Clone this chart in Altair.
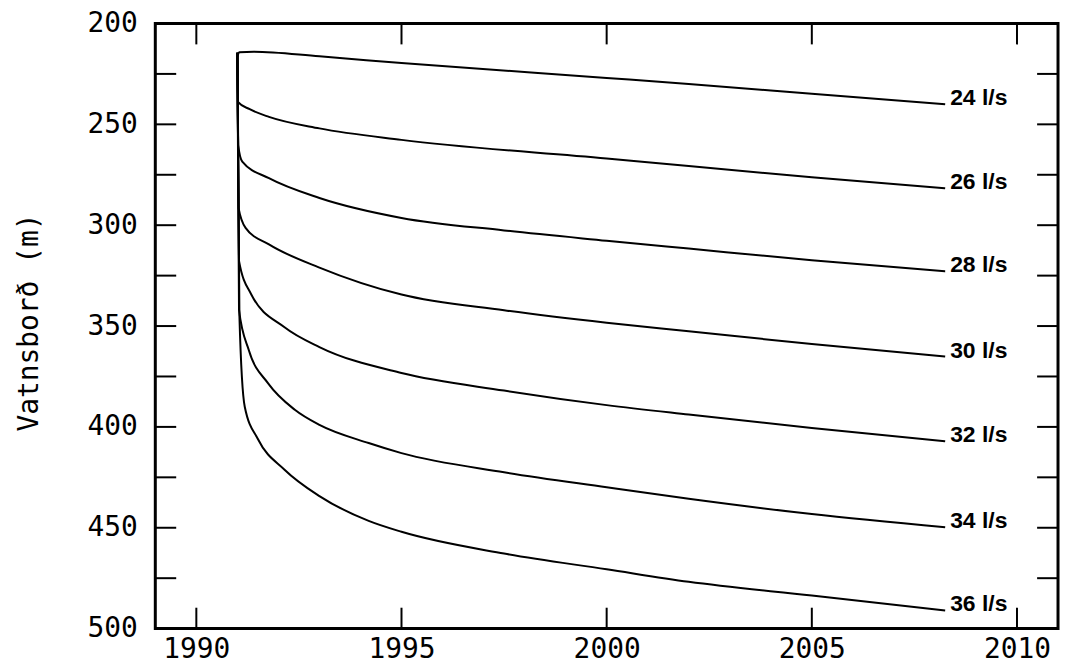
import altair as alt
import pandas as pd

# ---- data ----
series_names = ["24 l/s", "26 l/s", "28 l/s", "30 l/s", "32 l/s", "34 l/s", "36 l/s"]

years_24 = [1991.0, 1991.05, 1991.4, 1993, 1995, 2000, 2002, 2005, 2008.25]
level_24 = [216.5, 214.3, 214.0, 216.3, 219.6, 227.0, 230.0, 234.8, 240.0]

years_26 = [1991.0, 1991.02, 1991.3, 1991.77, 1993, 1995, 2000, 2002, 2005, 2008.25]
level_26 = [214.5, 239.0, 242.5, 246.3, 252.0, 257.7, 266.9, 270.7, 276.2, 281.7]

years_28 = [1991.0, 1991.02, 1991.12, 1991.77, 1993, 1995, 1997.5, 2000, 2002, 2005, 2008.25]
level_28 = [214.5, 260.3, 268.5, 276.7, 286.5, 296.4, 302.6, 307.7, 311.6, 317.4, 322.9]

years_30 = [1991.0, 1991.03, 1991.2, 1991.77, 1993, 1995, 1997.5, 2000, 2002, 2005, 2008.25]
level_30 = [214.5, 291.5, 301.3, 309.5, 321.0, 334.4, 342.2, 348.4, 352.6, 358.9, 365.1]

years_32 = [1991.0, 1991.04, 1991.33, 1992.15, 1993, 1995, 1997.5, 2000, 2002, 2005, 2008.25]
level_32 = [214.5, 317.7, 334.0, 350.6, 360.4, 373.3, 382.0, 389.2, 393.9, 400.5, 407.1]

years_34 = [1991.0, 1991.04, 1991.28, 1991.75, 1992.4, 1993, 1994.2, 1995, 1997.5, 2000, 2002, 2005, 2008.25]
level_34 = [214.5, 342.0, 362.0, 378.4, 391.5, 399.0, 408.0, 413.0, 422.5, 429.9, 435.6, 443.2, 449.8]

years_36 = [1991.0, 1991.05, 1991.18, 1991.5, 1992.15, 1993, 1994.2, 1995, 1997.5, 2000, 2002, 2005, 2008.25]
level_36 = [214.5, 345.0, 390.0, 406.0, 421.2, 434.3, 446.6, 452.0, 462.8, 470.6, 476.8, 483.6, 491.0]

x_ticks = [1990, 1995, 2000, 2005, 2010]
y_ticks = [200, 225, 250, 275, 300, 325, 350, 375, 400, 425, 450, 475, 500]
y_labels = [200, 250, 300, 350, 400, 450, 500]

all_years = [years_24, years_26, years_28, years_30, years_32, years_34, years_36]
all_levels = [level_24, level_26, level_28, level_30, level_32, level_34, level_36]

rows = []
for name, ys, vs in zip(series_names, all_years, all_levels):
    for i, (a, b) in enumerate(zip(ys, vs)):
        rows.append({"series": name, "year": a, "level": b, "order": i})
df = pd.DataFrame(rows)

end_df = pd.DataFrame({
    "series": series_names,
    "year": [ys[-1] for ys in all_years],
    "level": [vs[-1] for vs in all_levels],
})
xt_df = pd.DataFrame({"t": x_ticks})
yt_df = pd.DataFrame({"t": y_ticks})

W, H = 907, 608
TL = 21
FONT = "DejaVu Sans Mono"

xscale = alt.Scale(domain=[1989, 2011], nice=False, zero=False)
yscale = alt.Scale(domain=[200, 500], reverse=True, nice=False, zero=False)

x_enc = alt.X("year:Q", scale=xscale,
              axis=alt.Axis(values=x_ticks, format="d", ticks=False, domain=False, grid=False,
                            labelFont=FONT, labelFontSize=28, labelColor="black",
                            labelPadding=7, title=None, labelFlush=False))
y_enc = alt.Y("level:Q", scale=yscale,
              axis=alt.Axis(values=y_labels, format="d", ticks=False, domain=False, grid=False,
                            labelFont=FONT, labelFontSize=28, labelColor="black",
                            labelPadding=18, labelFlush=False,
                            title="Vatnsborð (m)", titleFont=FONT, titleFontSize=28,
                            titleFontWeight="normal", titleColor="black",
                            titleAngle=270, titleX=-118, titleY=300,
                            titleAlign="center", titleBaseline="alphabetic"))

lines = alt.Chart(df).mark_line(color="black", strokeWidth=2, interpolate="monotone").encode(
    x=x_enc, y=y_enc, detail="series:N", order="order:Q"
)

labels = alt.Chart(end_df).mark_text(
    align="left", baseline="middle", dx=5, dy=-6,
    font="Liberation Sans", fontWeight="bold", fontSize=23, color="black"
).encode(
    x=alt.X("year:Q", scale=xscale),
    y=alt.Y("level:Q", scale=yscale),
    text="series:N",
)

tick_style = dict(color="black", strokeWidth=2)
top_ticks = alt.Chart(xt_df).mark_rule(**tick_style).encode(
    x=alt.X("t:Q", scale=xscale), y=alt.value(0), y2=alt.value(TL))
bot_ticks = alt.Chart(xt_df).mark_rule(**tick_style).encode(
    x=alt.X("t:Q", scale=xscale), y=alt.value(H - TL), y2=alt.value(H))
left_ticks = alt.Chart(yt_df).mark_rule(**tick_style).encode(
    y=alt.Y("t:Q", scale=yscale), x=alt.value(0), x2=alt.value(TL))
right_ticks = alt.Chart(yt_df).mark_rule(**tick_style).encode(
    y=alt.Y("t:Q", scale=yscale), x=alt.value(W - TL), x2=alt.value(W))

chart = alt.layer(lines, labels, top_ticks, bot_ticks, left_ticks, right_ticks).properties(
    width=W, height=H,
    autosize=alt.AutoSizeParams(type="none"),
    padding={"left": 148, "top": 14, "right": 3, "bottom": 35},
    background="white",
).configure_view(stroke="black", strokeWidth=3)

chart.save("out.html", embed_options={"renderer": "svg", "actions": False})
